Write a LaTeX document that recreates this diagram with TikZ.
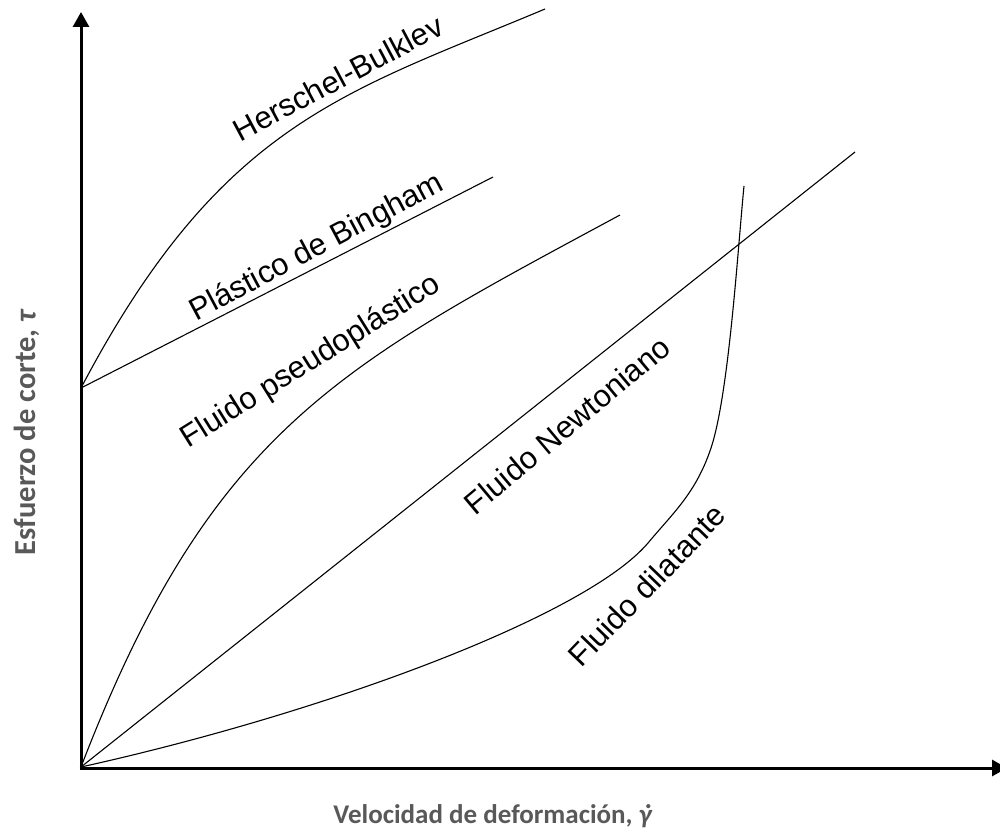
\documentclass[tikz,border=0pt]{standalone}
\usepackage{fontspec}
\setmainfont{Liberation Sans}
\newfontfamily\axisfont{Carlito}
\usetikzlibrary{arrows.meta}
\definecolor{axgray}{HTML}{595959}
\tikzset{
  axisline/.style={line width=3pt, -{Triangle[width=16pt,length=15pt]}},
  curve/.style={line width=1.1pt, line join=round},
  curvelabel/.style={inner sep=0pt, font=\fontsize{31}{31}\selectfont},
  axislabel/.style={inner sep=0pt, text=axgray, font=\axisfont\bfseries\fontsize{27}{27}\selectfont},
  yaxislabel/.style={axislabel, font=\axisfont\bfseries\fontsize{30.5}{30.5}\selectfont}
}
\newcommand{\gdotsym}{\ooalign{\textit{γ}\cr\hidewidth\kern0.12em\textit{˙}\hidewidth\cr}}
\begin{document}
\begin{tikzpicture}[x=1pt,y=-1pt]
\useasboundingbox (0,0) rectangle (1000,834);
\coordinate (O) at (81,767);
\coordinate (Y0) at (81,388);
\coordinate (ytip) at (81,12);
\coordinate (xtip) at (1007,768);
% axes
\draw[axisline] (81,768) -- (ytip);
\draw[axisline] (79.5,768) -- (xtip);
% Herschel-Bulkley
\coordinate (Hend) at (545,9);
\draw[curve] (Y0) .. controls (221,122) and (345,93) .. (Hend);
% Bingham
\coordinate (Bend) at (493,177);
\draw[curve] (Y0) -- (Bend);
% pseudoplastic
\coordinate (Pend) at (620,215);
\draw[curve] (O) .. controls (211,429) and (340,366) .. (Pend);
% Newtonian
\coordinate (Nend) at (855,152);
\draw[curve] (O) -- (Nend);
% dilatant
\coordinate (Da) at (648,543);
\coordinate (Db) at (711,448);
\coordinate (Dend) at (744,186);
\draw[curve] (O) .. controls (321,714) and (585,617) .. (Da)
                 .. controls (673,513) and (696,493) .. (Db)
                 .. controls (729,394) and (738,246) .. (Dend);
% labels
\node[curvelabel, rotate=28] (lhb) at (338,78) {Herschel-Bulklev};
\node[curvelabel, rotate=28] (lbi) at (317,248) {Plástico de Bingham};
\node[curvelabel, rotate=32] (lps) at (311,362) {Fluido pseudoplástico};
\node[curvelabel, rotate=40] (lnw) at (567,425) {Fluido Newtoniano};
\node[curvelabel, rotate=46] (ldi) at (647,585) {Fluido dilatante};
\node[axislabel, anchor=base] (xl) at (493,823) {Velocidad de deformación, \gdotsym};
\node[yaxislabel, rotate=90] (yl) at (27,432) {Esfuerzo de corte, \textit{τ}};
\end{tikzpicture}
\end{document}
